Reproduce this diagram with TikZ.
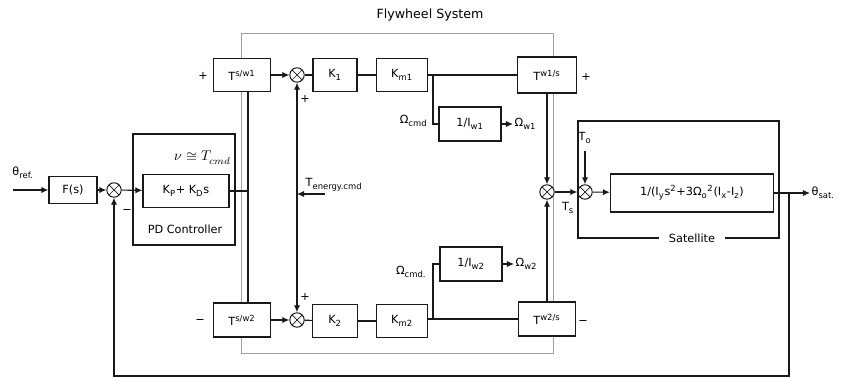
\documentclass[tikz,border=0pt]{standalone}
\usepackage{fontspec}
\usepackage{unicode-math}
\setmainfont{DejaVu Sans}
\setmathfont{Latin Modern Math}
\usetikzlibrary{arrows.meta, positioning, calc}
\tikzset{every node/.append style={align=center, font=\fontsize{8}{9.6}\selectfont}}
\definecolor{linecol}{RGB}{25,25,25}
\definecolor{framecol}{RGB}{160,160,160}
\tikzset{
  blk/.style={draw=linecol, line width=0.8pt, fill=white, inner sep=1pt,
              minimum height=0.83cm},
  sumjn/.style={draw=linecol, line width=0.7pt, circle, fill=white,
                minimum size=0.36cm, inner sep=0pt,
                path picture={\draw[linecol, line width=0.5pt]
                  (path picture bounding box.north west) -- (path picture bounding box.south east)
                  (path picture bounding box.north east) -- (path picture bounding box.south west);}},
  sig/.style={draw=linecol, line width=0.8pt},
  arr/.style={sig, -{Latex[length=5pt, width=4.5pt]}},
  lbl/.style={inner sep=1pt},
}

\begin{document}
\begin{tikzpicture}[x=0.025cm, y=-0.025cm]
\useasboundingbox (0,0) rectangle (845,379);

% ── Flywheel frame ───────────────────────────────────────────────────────────
\draw[framecol, line width=0.6pt] (241,33) rectangle (553,353);
\node[font=\fontsize{9}{11}\selectfont] (flylbl) at (430,15) {Flywheel System};

% ── Input, F(s) and PD controller ────────────────────────────────────────────
\coordinate (thin) at (13,190);
\node[lbl] (thref) at (23,173) {θ\textsubscript{ref.}};
\node[blk, minimum width=1.2cm, minimum height=0.68cm] (fs) at (73,190) {F(s)};
\node[sumjn] (sum2) at (114,190) {};
\draw[sig] (133,134) rectangle (235,245);
\node[blk, minimum width=2.15cm] (pd) at (186,191) {K\textsubscript{P}+ K\textsubscript{D}s};
\node[font=\fontsize{10}{12}\selectfont, inner sep=0pt] (nu) at (203,158) {$\nu\cong T_{cmd}$};
\node[lbl] (pdlbl) at (185,229) {PD Controller};
\coordinate (bus) at (248,191);

% ── Upper wheel branch ───────────────────────────────────────────────────────
\node[blk, minimum width=1.43cm] (tsw1) at (242,75) {T\textsuperscript{s/w1}};
\node[sumjn] (sum1) at (297,75) {};
\node[blk, minimum width=1.1cm] (k1) at (335,75) {K\textsubscript{1}};
\node[blk, minimum width=1.28cm] (km1) at (402,75) {K\textsubscript{m1}};
\node[blk, minimum width=1.48cm, minimum height=0.9cm] (tw1s) at (547,75) {T\textsuperscript{w1/s}};
\node[blk, minimum width=1.55cm, minimum height=0.85cm] (iw1) at (470,124) {1/I\textsubscript{w1}};
\node[lbl, anchor=east] (ocmd1) at (429,121) {Ω\textsubscript{cmd}};
\node[lbl, anchor=west] (ow1) at (513,124) {Ω\textsubscript{w1}};
\coordinate (br1) at (433,75);

% ── Lower wheel branch ───────────────────────────────────────────────────────
\node[blk, minimum width=1.43cm, minimum height=0.85cm] (tsw2) at (242,320) {T\textsuperscript{s/w2}};
\node[sumjn] (sum5) at (297,320) {};
\node[blk, minimum width=1.13cm] (k2) at (335,321) {K\textsubscript{2}};
\node[blk, minimum width=1.28cm] (km2) at (402,321) {K\textsubscript{m2}};
\node[blk, minimum width=1.43cm, minimum height=0.85cm] (tw2s) at (547,319) {T\textsuperscript{w2/s}};
\node[blk, minimum width=1.55cm, minimum height=0.85cm] (iw2) at (471,264) {1/I\textsubscript{w2}};
\node[lbl, anchor=east] (ocmd2) at (428,272) {Ω\textsubscript{cmd.}};
\node[lbl, anchor=west] (ow2) at (514,264) {Ω\textsubscript{w2}};
\coordinate (br2) at (433,319);

% ── Energy command ───────────────────────────────────────────────────────────
\coordinate (tej) at (297,194);
\coordinate (tein) at (325,194);
\node[lbl, anchor=west] (tenergy) at (304,185) {T\textsubscript{energy.cmd}};

% ── Satellite ────────────────────────────────────────────────────────────────
\node[sumjn] (sum3) at (547,192) {};
\node[sumjn] (sum4) at (585,192) {};
\node[lbl] (ts) at (568,208) {T\textsubscript{s}};
\node[lbl] (to) at (585,138) {T\textsubscript{o}};
\node[blk, minimum width=4.08cm, minimum height=0.95cm] (sat) at (692,193)
      {1/(I\textsubscript{y}s\textsuperscript{2}+3Ω\textsubscript{o}\textsuperscript{2}(I\textsubscript{x}-I\textsubscript{z})};
\node[lbl, inner xsep=7pt] (satlbl) at (692,238) {Satellite};
\coordinate (satnw) at (578,121);
\coordinate (satse) at (779,238);
\node[lbl, anchor=west] (thsat) at (810,193) {θ\textsubscript{sat.}};
\coordinate (fb) at (789,193);
\coordinate (fbc) at (789,376);

% signs
\foreach \x/\y/\s [count=\i] in {203/76/+, 200/322/−, 586/77/+, 583/323/−,
                                   305/99/+, 305/297/+, 127/212/−} {
  \node[lbl] (sign\i) at (\x,\y) {\s};
}

% ── Connectors ───────────────────────────────────────────────────────────────
\draw[arr] (thin) -- (fs);
\draw[arr] (fs) -- (sum2);
\draw[arr] (sum2) -- (pd);
\draw[sig] (pd) -- (bus);
\draw[sig] (tsw1.south -| bus) -- (tsw2.north -| bus);

\draw[arr] (tsw1) -- (sum1);
\draw[sig] (sum1) -- (k1);
\draw[sig] (k1) -- (km1);
\draw[sig] (km1) -- (km1 -| tw1s.west);
\draw[sig] (br1) |- (iw1.west);
\draw[arr] (iw1) -- (ow1);

\draw[arr] (tsw2) -- (sum5);
\draw[sig] (sum5) -- (k2);
\draw[sig] (k2) -- (km2);
\draw[sig] (km2.east |- br2) -- (tw2s);
\draw[sig] (br2) |- (iw2.west);
\draw[arr] (iw2) -- (ow2);

\draw[arr] (tein) -- (tej);
\draw[arr] (tej) -- (sum1);
\draw[arr] (tej) -- (sum5);

\draw[arr] (tw1s) -- (sum3);
\draw[arr] (tw2s) -- (sum3);
\draw[arr] (sum3) -- (sum4);
\draw[arr, shorten <=4pt] (to) -- (sum4);
\draw[arr] (sum4) -- (sat);
\draw[sig] (satlbl.west) -| (satnw) -| (satse) -- (satlbl.east);
\draw[arr] (sat) -- (thsat);
\draw[arr] (fb) -- (fbc) -| (sum2);

\end{tikzpicture}
\end{document}
